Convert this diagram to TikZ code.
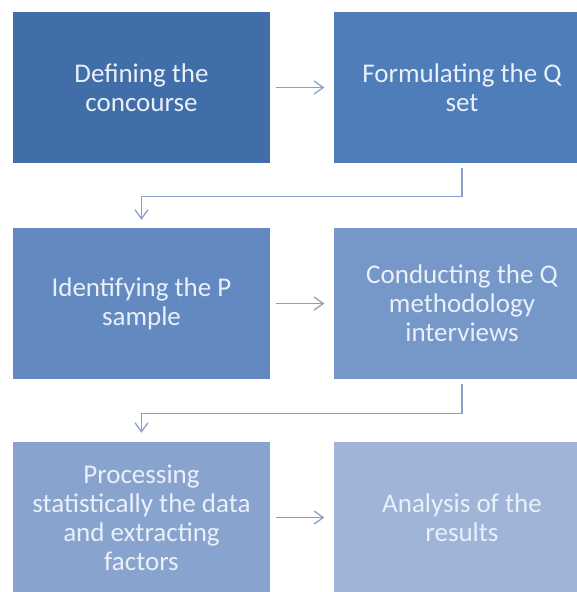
\documentclass[tikz,border=0pt]{standalone}
\usepackage{fontspec}
\setmainfont{Carlito}
\usetikzlibrary{arrows.meta}

\definecolor{boxA}{HTML}{416EA8}
\definecolor{boxB}{HTML}{4E7DB9}
\definecolor{boxC}{HTML}{628AC0}
\definecolor{boxD}{HTML}{7698C8}
\definecolor{boxE}{HTML}{88A4CE}
\definecolor{boxF}{HTML}{A0B4D7}
\definecolor{linkcol}{HTML}{8AA0CA}
\definecolor{labelcol}{HTML}{EAF0FA}

\tikzset{
  stepbox/.style={rectangle, draw=none, minimum width=257pt, minimum height=151pt,
    inner sep=0pt, align=center, text=labelcol,
    font=\fontsize{27}{29}\selectfont},
  link/.style={draw=linkcol, line width=1.3pt,
    -{Straight Barb[length=9pt,width=13pt,line width=1.3pt]}}
}

\begin{document}
\begin{tikzpicture}[x=1pt,y=-1pt]
  \useasboundingbox (0,0) rectangle (577,592);
  \begin{scope}
  \clip (0,0) rectangle (577,592);
  \fill[white] (0,0) rectangle (577,592);

  % process steps, row by row
  \node[stepbox, fill=boxA] (s1) at (141.5,87.5) {Defining the\\concourse};
  \node[stepbox, fill=boxB] (s2) at (462,87.5) {Formulating the Q\\set};
  \node[stepbox, fill=boxC] (s3) at (141.5,303.5) {Identifying the P\\sample};
  \node[stepbox, fill=boxD] (s4) at (462,303.5) {Conducting the Q\\methodology\\interviews};
  \node[stepbox, fill=boxE] (s5) at (141.5,517.5) {Processing\\statistically the data\\and extracting\\factors};
  \node[stepbox, fill=boxF] (s6) at (462,517.5) {Analysis of the\\results};

  % arrows within a row
  \draw[link] ([xshift=6pt]s1.east) -- ([xshift=-9pt]s2.west);
  \draw[link] ([xshift=6pt]s3.east) -- ([xshift=-9pt]s4.west);
  \draw[link] ([xshift=6pt]s5.east) -- ([xshift=-9pt]s6.west);

  % elbow connectors from one row to the next
  \draw[link] ([yshift=-5pt]s2.south) -- ++(0,28) -| ([yshift=8pt]s3.north);
  \draw[link] ([yshift=-5pt]s4.south) -- ++(0,29) -| ([yshift=9pt]s5.north);
  \end{scope}
\end{tikzpicture}
\end{document}
